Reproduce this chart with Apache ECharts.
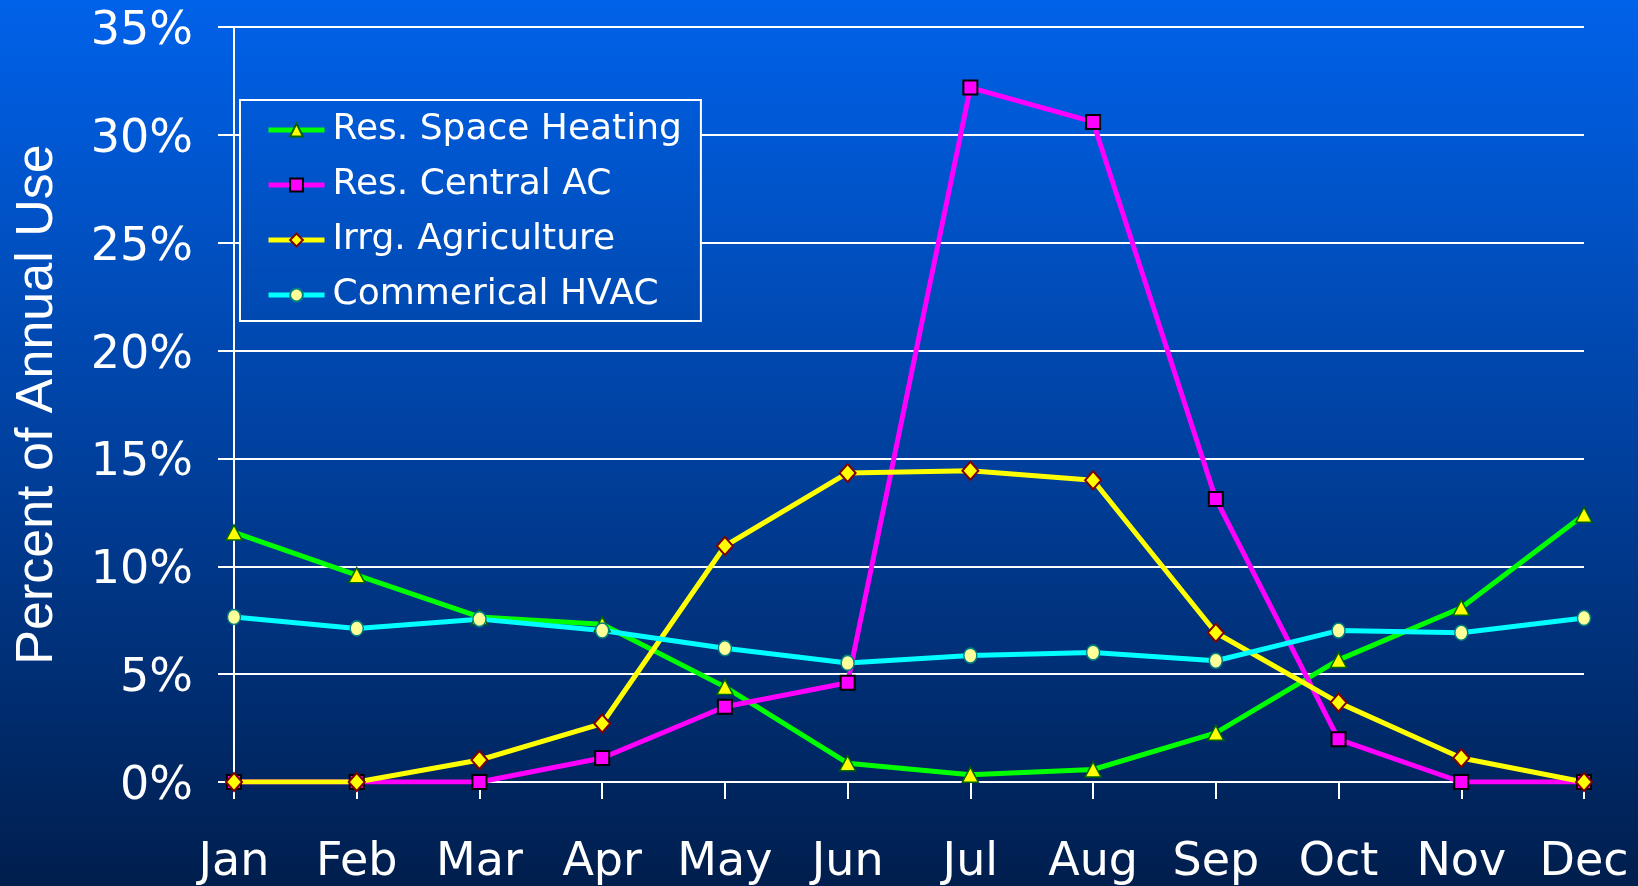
<!DOCTYPE html>
<html>
<head>
<meta charset="utf-8">
<script src="https://cdn.jsdelivr.net/npm/echarts@6/dist/echarts.min.js"></script>
<style>
html,body{margin:0;padding:0;width:1638px;height:886px;overflow:hidden;}
#chart{width:1638px;height:886px;}
</style>
</head>
<body>
<div id="chart"></div>
<script>
const months = ['Jan','Feb','Mar','Apr','May','Jun','Jul','Aug','Sep','Oct','Nov','Dec'];
const seriesNames = ['Res. Space Heating','Res. Central AC','Irrg. Agriculture','Commerical HVAC'];
const heating = [11.57, 9.59, 7.65, 7.31, 4.41, 0.87, 0.34, 0.58, 2.28, 5.66, 8.08, 12.39];
const centralAC = [0, 0, 0, 1.11, 3.49, 4.6, 32.19, 30.6, 13.12, 1.98, 0, 0];
const agriculture = [0, 0, 1.02, 2.71, 10.94, 14.33, 14.43, 13.99, 6.92, 3.68, 1.11, 0];
const hvac = [7.65, 7.12, 7.55, 7.02, 6.2, 5.52, 5.86, 6.0, 5.62, 7.02, 6.92, 7.6];
const yMin = 0, yMax = 35, yStep = 5;

const chart = echarts.init(document.getElementById('chart'));
const font = 'DejaVu Sans';
const option = {
  backgroundColor: new echarts.graphic.LinearGradient(0, 0, 0, 1, [
    {offset: 0, color: '#0062EA'},
    {offset: 0.5, color: '#0041A0'},
    {offset: 1, color: '#001E4D'}
  ]),
  animation: false,
  grid: {left: 234, right: 54, top: 27, bottom: 104, containLabel: false},
  legend: {
    orient: 'vertical',
    left: 240, top: 100,
    padding: [12, 19, 8, 26],
    itemGap: 19,
    itemWidth: 56, itemHeight: 16,
    borderColor: '#ffffff', borderWidth: 2,
    backgroundColor: new echarts.graphic.LinearGradient(0, 0, 0, 1, [
      {offset: 0, color: '#005AD8'},
      {offset: 1, color: '#0049B1'}
    ]),
    lineStyle: {width: 5},
    textStyle: {color: '#ffffff', fontFamily: font, fontSize: 36, lineHeight: 36, padding: [0, 0, 0, 3]},
    data: seriesNames
  },
  xAxis: {
    type: 'category',
    data: months,
    boundaryGap: false,
    axisLine: {show: true, lineStyle: {color: '#ffffff', width: 2}},
    axisTick: {show: true, interval: 0, length: 17, lineStyle: {color: '#ffffff', width: 2}},
    axisLabel: {color: '#ffffff', fontFamily: font, fontSize: 46, margin: 58, interval: 0}
  },
  yAxis: {
    type: 'value',
    min: yMin, max: yMax, interval: yStep,
    name: 'Percent of Annual Use',
    nameLocation: 'middle',
    nameGap: 170,
    nameTextStyle: {color: '#ffffff', fontFamily: 'Liberation Sans', fontSize: 52},
    axisLine: {show: true, lineStyle: {color: '#ffffff', width: 2}},
    axisTick: {show: true, length: 16, lineStyle: {color: '#ffffff', width: 2}},
    axisLabel: {color: '#ffffff', fontFamily: font, fontSize: 46, margin: 41, verticalAlign: 'top', lineHeight: 10, formatter: '{value}%'},
    splitLine: {show: true, lineStyle: {color: '#ffffff', width: 2}}
  },
  series: [
    {
      name: seriesNames[0], type: 'line', data: heating,
      symbol: 'triangle', symbolSize: [16, 15],
      lineStyle: {color: '#00FF00', width: 5},
      itemStyle: {color: '#FFFF00', borderColor: '#006600', borderWidth: 1.5}
    },
    {
      name: seriesNames[1], type: 'line', data: centralAC,
      symbol: 'rect', symbolSize: 14,
      lineStyle: {color: '#FF00FF', width: 5},
      itemStyle: {color: '#FF00FF', borderColor: '#000000', borderWidth: 2}
    },
    {
      name: seriesNames[2], type: 'line', data: agriculture,
      symbol: 'diamond', symbolSize: [16, 18],
      lineStyle: {color: '#FFFF00', width: 5},
      itemStyle: {color: '#FFFF00', borderColor: '#800000', borderWidth: 2}
    },
    {
      name: seriesNames[3], type: 'line', data: hvac,
      symbol: 'circle', symbolSize: [13, 15],
      lineStyle: {color: '#00FFFF', width: 5},
      itemStyle: {color: '#FFFF99', borderColor: '#008080', borderWidth: 1.5}
    }
  ]
};
chart.setOption(option);
</script>
</body>
</html>
